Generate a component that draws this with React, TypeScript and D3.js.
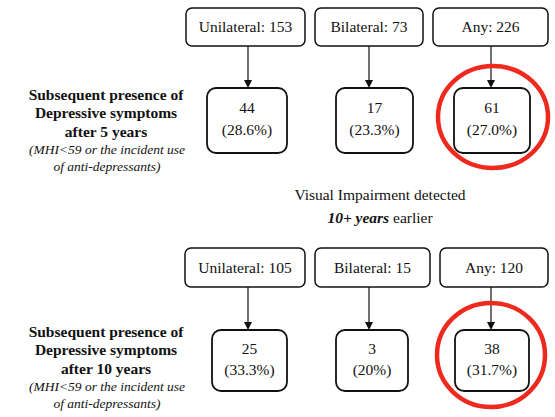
import React from "react";
import * as d3 from "d3";

const groups = ["Unilateral", "Bilateral", "Any"];
const totals5 = [153, 73, 226];
const cases5 = [44, 17, 61];
const pct5 = ["28.6%", "23.3%", "27.0%"];
const totals10 = [105, 15, 120];
const cases10 = [25, 3, 38];
const pct10 = ["33.3%", "20%", "31.7%"];
const highlight = ["Any"];

const INK = "#111";
const RED = "#ee2a1e";
const FS = 15.5;

type Panel = {
  headY: [number, number];
  resY: [number, number];
  headX: [number, number][];
  resX: [number, number][];
  arrowX: number[];
  labelY: number;
  years: string;
  totals: number[];
  cases: number[];
  pct: string[];
  circle: { cx: number; cy: number; rx: number; ry: number };
};

const panels: Panel[] = [
  {
    headY: [8, 46],
    resY: [88, 153],
    headX: [[186, 305], [315, 423], [433, 548]],
    resX: [[207, 287], [336, 413], [454, 530]],
    arrowX: [248, 369, 491],
    labelY: 100,
    years: "after 5 years",
    totals: totals5,
    cases: cases5,
    pct: pct5,
    circle: { cx: 493, cy: 117, rx: 55, ry: 51 },
  },
  {
    headY: [248, 287],
    resY: [330, 391],
    headX: [[185, 305], [315, 430], [440, 548]],
    resX: [[212, 287], [336, 408], [455, 529]],
    arrowX: [248, 369, 491],
    labelY: 337,
    years: "after 10 years",
    totals: totals10,
    cases: cases10,
    pct: pct10,
    circle: { cx: 491, cy: 355, rx: 54, ry: 52 },
  },
];

function arrowHead(x: number, y: number) {
  const p = d3.path();
  p.moveTo(x - 4, y - 8);
  p.lineTo(x + 4, y - 8);
  p.lineTo(x, y);
  p.closePath();
  return p.toString();
}

function PanelView({ p }: { p: Panel }) {
  const hMid = (p.headY[0] + p.headY[1]) / 2;
  const rTop = p.resY[0];
  const rH = p.resY[1] - p.resY[0];
  return (
    <g>
      {groups.map((g, i) => {
        const [hx0, hx1] = p.headX[i];
        const [rx0, rx1] = p.resX[i];
        const ax = p.arrowX[i];
        return (
          <g key={g}>
            <rect x={hx0} y={p.headY[0]} width={hx1 - hx0} height={p.headY[1] - p.headY[0]} rx={6} ry={6} fill="#fff" stroke={INK} strokeWidth={1.5} />
            <text x={(hx0 + hx1) / 2} y={hMid + 5} textAnchor="middle" fontSize={FS} fill={INK}>
              {`${g}: ${p.totals[i]}`}
            </text>
            <line x1={ax} x2={ax} y1={p.headY[1]} y2={rTop - 7} stroke={INK} strokeWidth={1.2} />
            <path d={arrowHead(ax, rTop)} fill={INK} />
            <rect x={rx0} y={rTop} width={rx1 - rx0} height={rH} rx={9} ry={9} fill="#fff" stroke={INK} strokeWidth={1.8} />
            <text x={(rx0 + rx1) / 2} y={rTop + rH * 0.31 + 5} textAnchor="middle" fontSize={FS} fill={INK}>
              {p.cases[i]}
            </text>
            <text x={(rx0 + rx1) / 2} y={rTop + rH * 0.65 + 5} textAnchor="middle" fontSize={FS} fill={INK}>
              {`(${p.pct[i]})`}
            </text>
          </g>
        );
      })}
      {highlight.map((h) => (
        <ellipse key={h} cx={p.circle.cx} cy={p.circle.cy} rx={p.circle.rx} ry={p.circle.ry} fill="none" stroke={RED} strokeWidth={4.5} />
      ))}
      <g fill={INK} textAnchor="middle">
        <text x={106} y={p.labelY} fontSize={15.5} fontWeight="bold">Subsequent presence of</text>
        <text x={106} y={p.labelY + 18} fontSize={15.5} fontWeight="bold">Depressive symptoms</text>
        <text x={106} y={p.labelY + 37} fontSize={15.5} fontWeight="bold">{p.years}</text>
        <text x={107} y={p.labelY + 54} fontSize={13.5} fontStyle="italic">(MHI&lt;59 or the incident use</text>
        <text x={107} y={p.labelY + 71} fontSize={13.5} fontStyle="italic">of anti-depressants)</text>
      </g>
    </g>
  );
}

export default function App() {
  return (
    <svg
      width={555}
      height={417}
      style={{ position: "absolute", left: 0, top: 0, display: "block", background: "#fff", fontFamily: "Liberation Serif" }}
    >
      <rect width={555} height={417} fill="#fff" />
      {panels.map((p, i) => (
        <PanelView key={i} p={p} />
      ))}
      <text x={380} y={200} textAnchor="middle" fontSize={15.5} fill={INK}>
        Visual Impairment detected
      </text>
      <text x={380} y={223} textAnchor="middle" fontSize={15.5} fill={INK}>
        <tspan fontWeight="bold" fontStyle="italic">10+ years</tspan> earlier
      </text>
    </svg>
  );
}
